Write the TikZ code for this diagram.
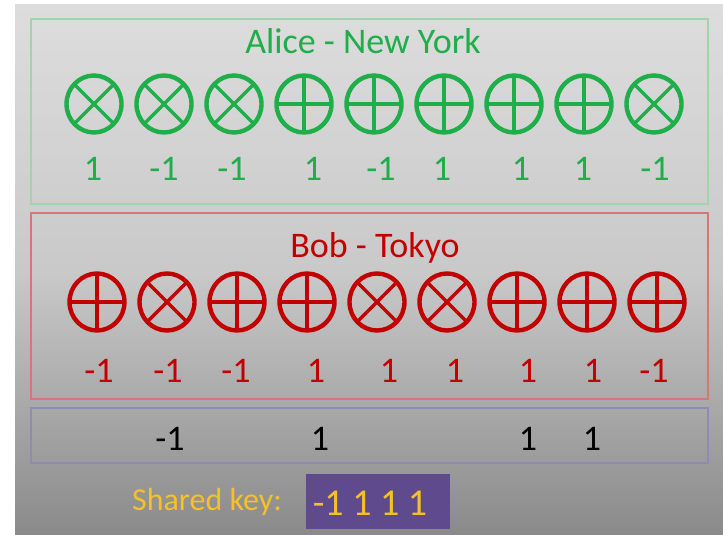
\documentclass[tikz,border=0pt]{standalone}
\usepackage{fontspec}
\setmainfont{Carlito}
\usepackage{tikz}
\usetikzlibrary{shapes.geometric}
\usepackage{xcolor}
\definecolor{alicegreen}{RGB}{30, 174, 74}
\definecolor{bobred}{RGB}{194, 0, 0}
\definecolor{keygold}{RGB}{246, 192, 40}
\definecolor{keypurple}{RGB}{94, 74, 140}
\definecolor{greenframe}{RGB}{160, 212, 172}
\definecolor{redframe}{RGB}{214, 118, 118}
\definecolor{blueframe}{RGB}{140, 140, 182}

\begin{document}
\begin{tikzpicture}[x=1pt, y=-1pt,
    qbit/.style={ellipse, line width=4.4pt, minimum width=55pt, minimum height=57pt, inner sep=0pt, outer sep=0pt},
    bar/.style={line width=3.2pt},
    lbl/.style={font=\fontsize{36}{40}\selectfont, anchor=base, inner sep=0pt}]
      \useasboundingbox (0,0) rectangle (723,535);
      \fill[white] (0,0) rectangle (723,535);
      \shade[top color={rgb,255:red,221;green,221;blue,221}, bottom color={rgb,255:red,138;green,138;blue,138},
        middle color={rgb,255:red,201;green,201;blue,201}] (15,5) rectangle (723,535);
      % frames
      \draw[greenframe, line width=1.2pt] (31,19) rectangle (708,204);
      \draw[redframe, line width=1.2pt] (31,213) rectangle (708,399);
      \draw[blueframe, line width=1.6pt] (31,408) rectangle (708,463);
      % Alice
      \node[lbl, alicegreen] (alice) at (363,54) {Alice - New York};
      \foreach \k [count=\i] in {1,1,1,0,0,0,0,0,1} {
        \node[qbit, draw=alicegreen] (a\i) at (24+70*\i, 104) {};
        \ifnum\k=1
          \draw[alicegreen, bar] (a\i.45) -- (a\i.225) (a\i.135) -- (a\i.315);
        \else
          \draw[alicegreen, bar] (a\i.north) -- (a\i.south) (a\i.west) -- (a\i.east);
        \fi
      }
      \foreach \v/\x [count=\i] in {1/93, -1/164, -1/232, 1/313, -1/381, 1/442, 1/521, 1/583, -1/655} {
        \node[lbl, alicegreen] (av\i) at (\x,180) {\v};
      }
      % Bob
      \node[lbl, bobred] (bob) at (375,257) {Bob - Tokyo};
      \foreach \k [count=\i] in {0,1,0,0,1,1,0,0,0} {
        \node[qbit, draw=bobred] (b\i) at (27+70*\i, 302) {};
        \ifnum\k=1
          \draw[bobred, bar] (b\i.45) -- (b\i.225) (b\i.135) -- (b\i.315);
        \else
          \draw[bobred, bar] (b\i.north) -- (b\i.south) (b\i.west) -- (b\i.east);
        \fi
      }
      \foreach \v/\x [count=\i] in {-1/99, -1/168, -1/236, 1/316, 1/389, 1/455, 1/528, 1/593, -1/654} {
        \node[lbl, bobred] (bv\i) at (\x,382) {\v};
      }
      % matching bases
      \foreach \v/\x [count=\i] in {-1/170, 1/320, 1/528, 1/592} {
        \node[lbl] (kv\i) at (\x,450) {\v};
      }
      \node[lbl, keygold, font=\fontsize{32}{40}\selectfont] (shared) at (207,510) {Shared key:};
      \node[fill=keypurple, minimum width=144pt, minimum height=55pt, inner sep=0pt] (keybox) at (378,501.5) {};
      \node[lbl, keygold, font=\fontsize{38}{40}\selectfont] (key) at (370,515) {-1 1 1 1};
\end{tikzpicture}
\end{document}
